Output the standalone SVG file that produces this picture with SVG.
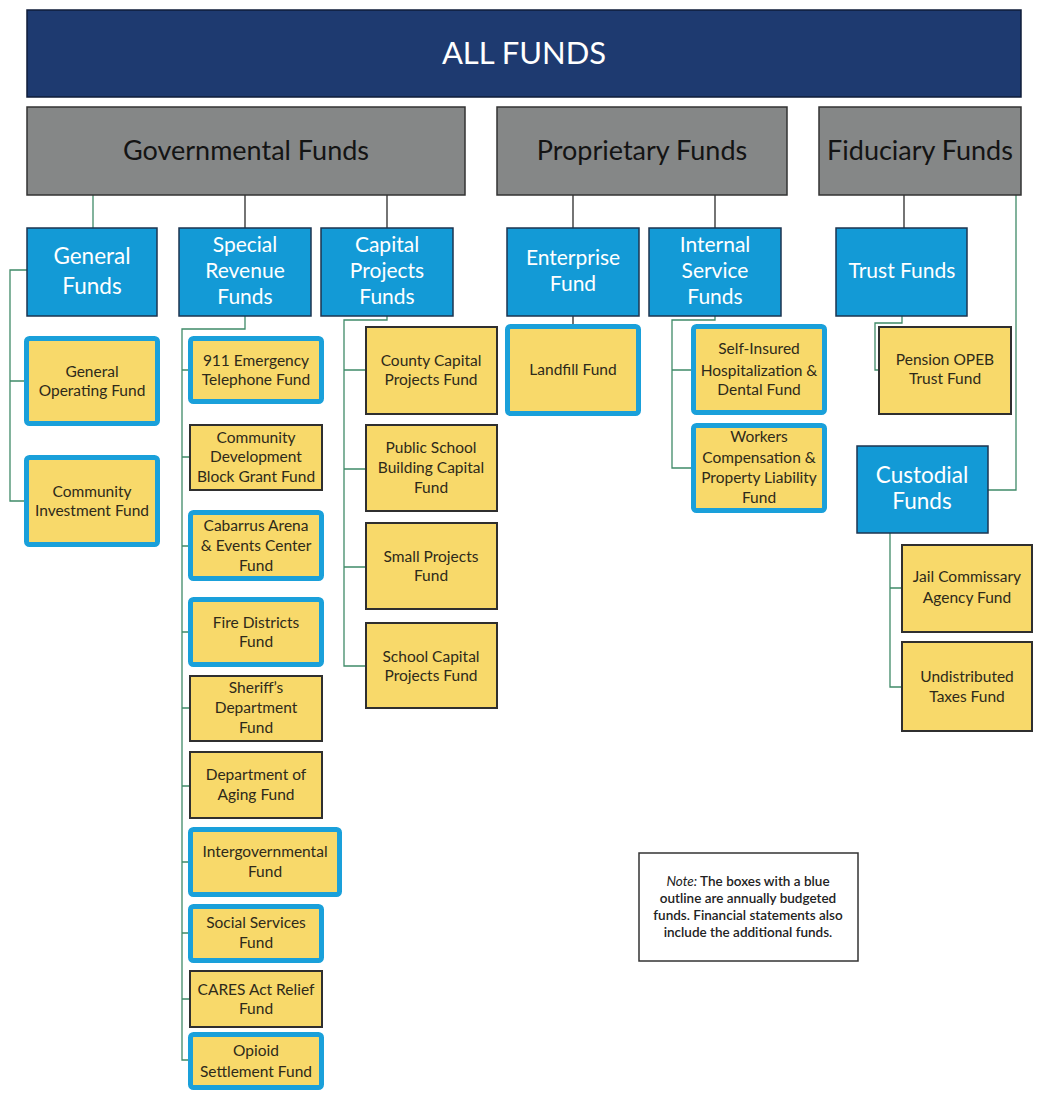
<svg xmlns="http://www.w3.org/2000/svg" width="1037" height="1100" viewBox="0 0 1037 1100">
  <style>
    text { font-family: Lato, "Open Sans", "Liberation Sans", sans-serif; text-anchor: middle; }
    .banner { fill: #1e3a70; stroke: #0f1c38; stroke-width: 1.5; }
    .banner-t { fill: #ffffff; font-size: 31px; }
    .cat { fill: #858787; stroke: #333333; stroke-width: 1.5; }
    .cat-t { fill: #141414; font-size: 27px; }
    .grp { fill: #139ad6; stroke: #1d3550; stroke-width: 1.5; }
    .grp-t { fill: #ffffff; font-size: 21px; }
    .grp-t.big { font-size: 22.5px; }
    .fund { fill: #f8d96a; stroke: #2f2f2f; stroke-width: 2; }
    .budget { fill: #f8d96a; stroke: #1aa0da; stroke-width: 5; }
    .fund-t { fill: #2e2a1a; font-size: 15.5px; }
    .note { fill: #ffffff; stroke: #333333; stroke-width: 1.5; }
    .note-t { fill: #222222; font-size: 13.5px; font-weight: 600; }
    .link-g { fill: none; stroke: #3f8a68; stroke-width: 1.3; }
    .link-d { fill: none; stroke: #2b2b2b; stroke-width: 1.3; }
  </style>

  <!-- connectors -->
  <g id="connectors">
    <path class="link-g" d="M93 195 V228"/>
    <path class="link-d" d="M245 195 V228 M387 195 V228 M573 195 V228 M715 195 V228 M904 195 V228 M573 316 V324"/>
    <!-- general funds -->
    <path class="link-g" d="M27 270 H10 V501 H24 M10 381 H24"/>
    <!-- special revenue funds -->
    <path class="link-g" d="M245 316 V329 H182 V1060 H188 M182 370 H188 M182 457 H190 M182 546 H188 M182 632 H188 M182 708 H190 M182 786 H190 M182 862 H188 M182 933 H188 M182 999 H190"/>
    <!-- capital projects funds -->
    <path class="link-g" d="M387 316 V320 H344 V666 H366 M344 370 H366 M344 469 H366 M344 567 H366"/>
    <!-- internal service funds -->
    <path class="link-g" d="M715 316 V320 H672 V468 H691 M672 370 H691"/>
    <!-- trust funds -->
    <path class="link-g" d="M902 316 V323 H875 V370 H879"/>
    <!-- fiduciary to custodial -->
    <path class="link-g" d="M1016 195 V490 H988"/>
    <!-- custodial funds -->
    <path class="link-g" d="M890 533 V687 H902 M890 588 H902"/>
  </g>

  <!-- top banner -->
  <g id="all-funds">
    <rect class="banner" x="27" y="10" width="994" height="87"/>
    <text class="banner-t" x="524" y="64">ALL FUNDS</text>
  </g>

  <!-- fund categories -->
  <g id="governmental">
    <rect class="cat" x="27" y="107" width="438" height="88"/>
    <text class="cat-t" x="246" y="160">Governmental Funds</text>
  </g>
  <g id="proprietary">
    <rect class="cat" x="497" y="107" width="290" height="88"/>
    <text class="cat-t" x="642" y="160">Proprietary Funds</text>
  </g>
  <g id="fiduciary">
    <rect class="cat" x="819" y="107" width="202" height="88"/>
    <text class="cat-t" x="920" y="160">Fiduciary Funds</text>
  </g>

  <!-- fund groups -->
  <g id="general-funds">
    <rect class="grp" x="27" y="228" width="130" height="88"/>
    <text class="grp-t big" x="92" y="264">General</text>
    <text class="grp-t big" x="92" y="294">Funds</text>
  </g>
  <g id="special-revenue-funds">
    <rect class="grp" x="179" y="228" width="132" height="88"/>
    <text class="grp-t" x="245" y="252">Special</text>
    <text class="grp-t" x="245" y="278">Revenue</text>
    <text class="grp-t" x="245" y="304">Funds</text>
  </g>
  <g id="capital-projects-funds">
    <rect class="grp" x="321" y="228" width="132" height="88"/>
    <text class="grp-t" x="387" y="252">Capital</text>
    <text class="grp-t" x="387" y="278">Projects</text>
    <text class="grp-t" x="387" y="304">Funds</text>
  </g>
  <g id="enterprise-fund">
    <rect class="grp" x="507" y="228" width="132" height="88"/>
    <text class="grp-t" x="573" y="265">Enterprise</text>
    <text class="grp-t" x="573" y="291">Fund</text>
  </g>
  <g id="internal-service-funds">
    <rect class="grp" x="649" y="228" width="132" height="88"/>
    <text class="grp-t" x="715" y="252">Internal</text>
    <text class="grp-t" x="715" y="278">Service</text>
    <text class="grp-t" x="715" y="304">Funds</text>
  </g>
  <g id="trust-funds">
    <rect class="grp" x="836" y="228" width="131" height="88"/>
    <text class="grp-t" x="902" y="278">Trust Funds</text>
  </g>
  <g id="custodial-funds">
    <rect class="grp" x="857" y="446" width="131" height="87"/>
    <text class="grp-t big" x="922" y="483">Custodial</text>
    <text class="grp-t big" x="922" y="509">Funds</text>
  </g>

  <!-- general funds -->
  <g id="general-operating-fund">
    <rect class="budget" x="26.5" y="338.5" width="131" height="85" rx="3"/>
    <text class="fund-t" x="92" y="377">General</text>
    <text class="fund-t" x="92" y="396">Operating Fund</text>
  </g>
  <g id="community-investment-fund">
    <rect class="budget" x="26.5" y="457.5" width="131" height="87" rx="3"/>
    <text class="fund-t" x="92" y="497">Community</text>
    <text class="fund-t" x="92" y="516">Investment Fund</text>
  </g>

  <!-- special revenue funds -->
  <g id="emergency-911-fund">
    <rect class="budget" x="190.5" y="338.5" width="131" height="63" rx="3"/>
    <text class="fund-t" x="256" y="366">911 Emergency</text>
    <text class="fund-t" x="256" y="385">Telephone Fund</text>
  </g>
  <g id="cdbg-fund">
    <rect class="fund" x="190" y="425" width="132" height="65"/>
    <text class="fund-t" x="256" y="443">Community</text>
    <text class="fund-t" x="256" y="462">Development</text>
    <text class="fund-t" x="256" y="482">Block Grant Fund</text>
  </g>
  <g id="arena-fund">
    <rect class="budget" x="190.5" y="512.5" width="131" height="66" rx="3"/>
    <text class="fund-t" x="256" y="531">Cabarrus Arena</text>
    <text class="fund-t" x="256" y="551">&amp; Events Center</text>
    <text class="fund-t" x="256" y="571">Fund</text>
  </g>
  <g id="fire-districts-fund">
    <rect class="budget" x="190.5" y="599.5" width="131" height="65" rx="3"/>
    <text class="fund-t" x="256" y="628">Fire Districts</text>
    <text class="fund-t" x="256" y="647">Fund</text>
  </g>
  <g id="sheriff-fund">
    <rect class="fund" x="190" y="676" width="132" height="65"/>
    <text class="fund-t" x="256" y="693">Sheriff’s</text>
    <text class="fund-t" x="256" y="713">Department</text>
    <text class="fund-t" x="256" y="733">Fund</text>
  </g>
  <g id="aging-fund">
    <rect class="fund" x="190" y="752" width="132" height="66"/>
    <text class="fund-t" x="256" y="780">Department of</text>
    <text class="fund-t" x="256" y="800">Aging Fund</text>
  </g>
  <g id="intergovernmental-fund">
    <rect class="budget" x="190.5" y="829.5" width="149" height="65" rx="3"/>
    <text class="fund-t" x="265" y="857">Intergovernmental</text>
    <text class="fund-t" x="265" y="877">Fund</text>
  </g>
  <g id="social-services-fund">
    <rect class="budget" x="190.5" y="906.5" width="131" height="54" rx="3"/>
    <text class="fund-t" x="256" y="928">Social Services</text>
    <text class="fund-t" x="256" y="948">Fund</text>
  </g>
  <g id="cares-fund">
    <rect class="fund" x="190" y="971" width="132" height="56"/>
    <text class="fund-t" x="256" y="995">CARES Act Relief</text>
    <text class="fund-t" x="256" y="1014">Fund</text>
  </g>
  <g id="opioid-fund">
    <rect class="budget" x="190.5" y="1034.5" width="131" height="53" rx="3"/>
    <text class="fund-t" x="256" y="1056">Opioid</text>
    <text class="fund-t" x="256" y="1077">Settlement Fund</text>
  </g>

  <!-- capital projects funds -->
  <g id="county-capital-fund">
    <rect class="fund" x="366" y="327" width="131" height="87"/>
    <text class="fund-t" x="431" y="366">County Capital</text>
    <text class="fund-t" x="431" y="385">Projects Fund</text>
  </g>
  <g id="public-school-fund">
    <rect class="fund" x="366" y="425" width="131" height="86"/>
    <text class="fund-t" x="431" y="453">Public School</text>
    <text class="fund-t" x="431" y="473">Building Capital</text>
    <text class="fund-t" x="431" y="493">Fund</text>
  </g>
  <g id="small-projects-fund">
    <rect class="fund" x="366" y="523" width="131" height="86"/>
    <text class="fund-t" x="431" y="562">Small Projects</text>
    <text class="fund-t" x="431" y="581">Fund</text>
  </g>
  <g id="school-capital-fund">
    <rect class="fund" x="366" y="623" width="131" height="85"/>
    <text class="fund-t" x="431" y="662">School Capital</text>
    <text class="fund-t" x="431" y="681">Projects Fund</text>
  </g>

  <!-- proprietary funds -->
  <g id="landfill-fund">
    <rect class="budget" x="507.5" y="326.5" width="131" height="87" rx="3"/>
    <text class="fund-t" x="573" y="375">Landfill Fund</text>
  </g>
  <g id="self-insured-fund">
    <rect class="budget" x="693.5" y="326.5" width="131" height="86" rx="3"/>
    <text class="fund-t" x="759" y="354">Self-Insured</text>
    <text class="fund-t" x="759" y="376">Hospitalization &amp;</text>
    <text class="fund-t" x="759" y="395">Dental Fund</text>
  </g>
  <g id="workers-comp-fund">
    <rect class="budget" x="693.5" y="425.5" width="131" height="85" rx="3"/>
    <text class="fund-t" x="759" y="442">Workers</text>
    <text class="fund-t" x="759" y="463">Compensation &amp;</text>
    <text class="fund-t" x="759" y="483">Property Liability</text>
    <text class="fund-t" x="759" y="503">Fund</text>
  </g>

  <!-- fiduciary funds -->
  <g id="pension-opeb-fund">
    <rect class="fund" x="879" y="327" width="132" height="87"/>
    <text class="fund-t" x="945" y="365">Pension OPEB</text>
    <text class="fund-t" x="945" y="384">Trust Fund</text>
  </g>
  <g id="jail-commissary-fund">
    <rect class="fund" x="902" y="545" width="130" height="87"/>
    <text class="fund-t" x="967" y="582">Jail Commissary</text>
    <text class="fund-t" x="967" y="603">Agency Fund</text>
  </g>
  <g id="undistributed-taxes-fund">
    <rect class="fund" x="902" y="642" width="130" height="89"/>
    <text class="fund-t" x="967" y="682">Undistributed</text>
    <text class="fund-t" x="967" y="702">Taxes Fund</text>
  </g>

  <!-- legend note -->
  <g id="note">
    <rect class="note" x="639" y="853" width="219" height="108"/>
    <text class="note-t" x="748" y="886"><tspan font-style="italic" font-weight="400">Note:</tspan> The boxes with a blue</text>
    <text class="note-t" x="748" y="903">outline are annually budgeted</text>
    <text class="note-t" x="748" y="920">funds. Financial statements also</text>
    <text class="note-t" x="748" y="937">include the additional funds.</text>
  </g>
</svg>
